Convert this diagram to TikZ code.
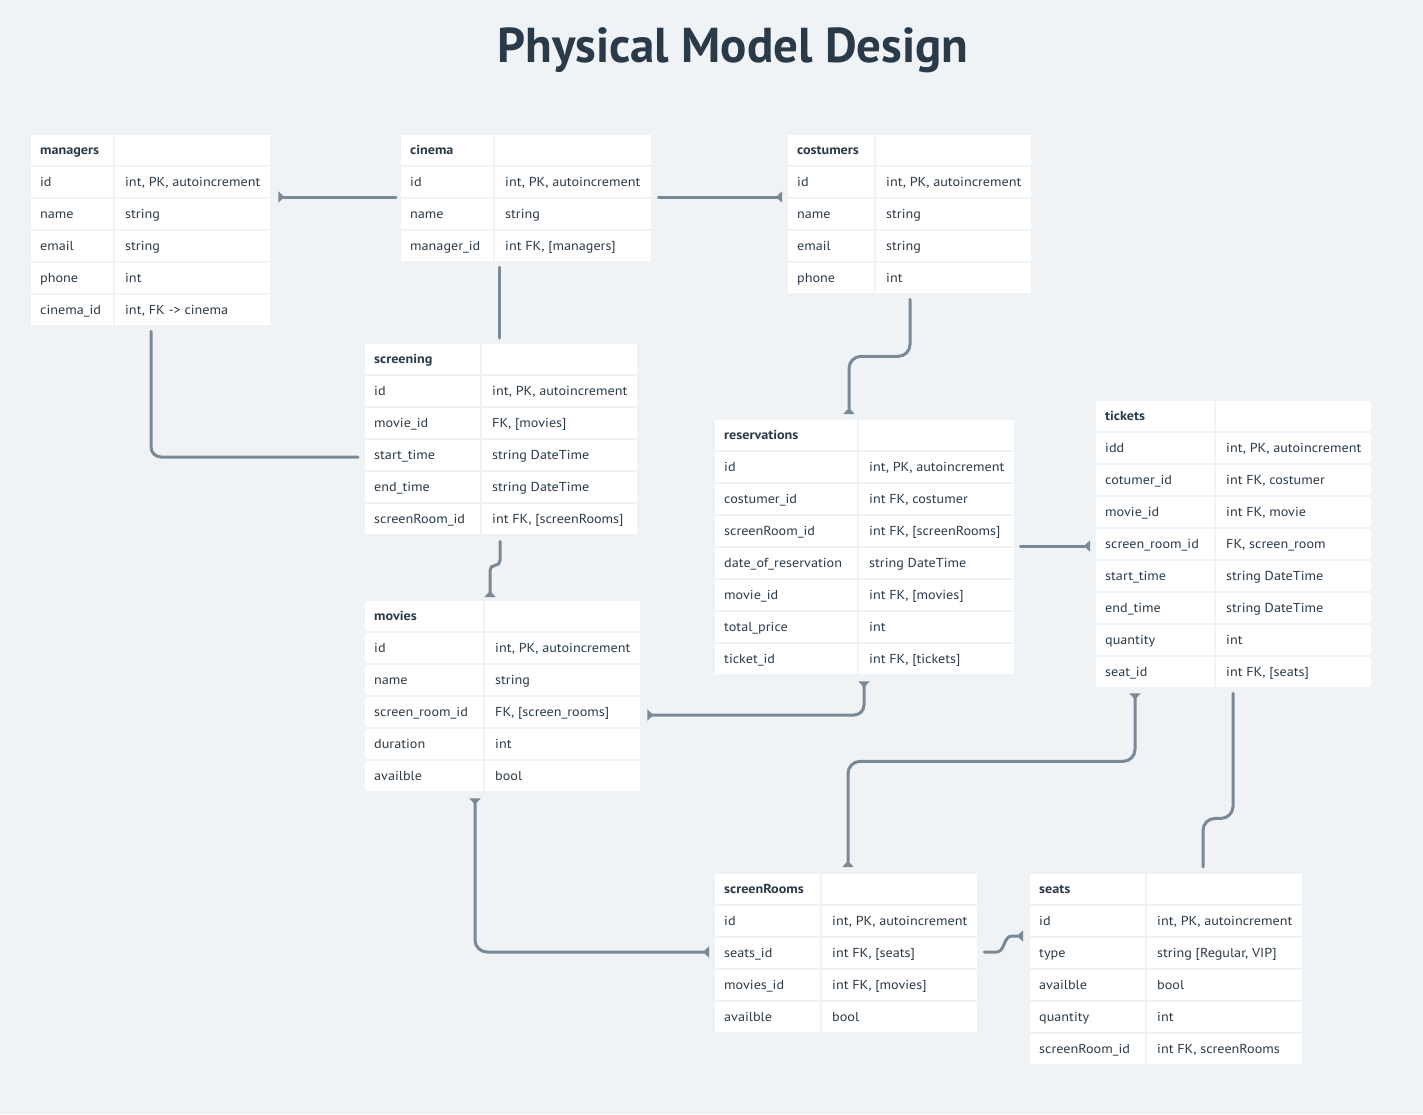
\documentclass[tikz,border=0pt]{standalone}
\usepackage{fontspec}
\setmainfont{PT Sans}[FakeStretch=1.09]
\newfontfamily\titlefont{PT Sans}
\usetikzlibrary{arrows.meta,calc}
\definecolor{bgc}{HTML}{EFF3F6}
\definecolor{txt}{HTML}{2B3A48}
\definecolor{linec}{HTML}{7B8896}
\tikzset{
  hdr/.style={anchor=base west, inner sep=0pt, text=txt, font=\fontsize{13}{15}\selectfont\bfseries},
  cell/.style={anchor=base west, inner sep=0pt, text=txt, font=\fontsize{13}{15}\selectfont},
  tblbox/.style={inner sep=0pt, draw=none, fill=none},
  rtip/.tip={Triangle[reversed,width=11pt,length=6pt]},
  conn/.style={draw=linec, line width=3pt, line cap=round},
}
% #1 name, #2 x, #3 y, #4 w1, #5 w2, #6 unused, #7 nrows, #8 rows
\newcommand{\ertable}[8]{%
  \fill[white] ({#2+1},{#3+1}) rectangle ++({#4-2},30);
  \fill[white] ({#2+#4+1},{#3+1}) rectangle ++({#5-2},30);
  \node[hdr] (#1-title) at ({#2+10},{#3+20}) {#1};
  \foreach \k/\v [count=\i] in {#8} {
    \fill[white] ({#2+1},{#3+32*\i+1}) rectangle ++({#4-2},30);
    \fill[white] ({#2+#4+1},{#3+32*\i+1}) rectangle ++({#5-2},30);
    \node[cell] (#1-k\i) at ({#2+10},{#3+32*\i+20}) {\k};
    \node[cell] (#1-v\i) at ({#2+#4+11},{#3+32*\i+20}) {\v};
  }
  \node[tblbox, minimum width={#4+#5}, minimum height={32*(#7+1)}, anchor=north west] (#1) at (#2,#3) {};
}
\begin{document}
\begin{tikzpicture}[x=1pt,y=-1pt]
\fill[bgc] (0,0) rectangle (1423,1114);
\node[text=txt, font=\titlefont\fontsize{49}{54}\selectfont\bfseries] (title) at (733,50) {Physical Model Design};

\ertable{managers}{30}{134}{84}{157}{}{5}{id/{int, PK, autoincrement}, name/string, email/string, phone/int, cinema\_id/{int, FK -> cinema}}
\ertable{cinema}{400}{134}{94}{158}{}{3}{id/{int, PK, autoincrement}, name/string, manager\_id/{int FK, [managers]}}
\ertable{costumers}{787}{134}{88}{157}{}{4}{id/{int, PK, autoincrement}, name/string, email/string, phone/int}
\ertable{screening}{364}{343}{117}{157}{}{5}{id/{int, PK, autoincrement}, movie\_id/{FK, [movies]}, start\_time/{string DateTime}, end\_time/{string DateTime}, screenRoom\_id/{int FK, [screenRooms]}}
\ertable{reservations}{714}{419}{144}{157}{}{7}{id/{int, PK, autoincrement}, costumer\_id/{int FK, costumer}, screenRoom\_id/{int FK, [screenRooms]}, date\_of\_reservation/{string DateTime}, movie\_id/{int FK, [movies]}, total\_price/int, ticket\_id/{int FK, [tickets]}}
\ertable{tickets}{1095}{400}{120}{157}{}{8}{idd/{int, PK, autoincrement}, cotumer\_id/{int FK, costumer}, movie\_id/{int FK, movie}, screen\_room\_id/{FK, screen\_room}, start\_time/{string DateTime}, end\_time/{string DateTime}, quantity/int, seat\_id/{int FK, [seats]}}
\ertable{movies}{364}{600}{120}{157}{}{5}{id/{int, PK, autoincrement}, name/string, screen\_room\_id/{FK, [screen\_rooms]}, duration/int, availble/bool}
\ertable{screenRooms}{714}{873}{107}{157}{}{4}{id/{int, PK, autoincrement}, seats\_id/{int FK, [seats]}, movies\_id/{int FK, [movies]}, availble/bool}
\ertable{seats}{1029}{873}{117}{157}{}{5}{id/{int, PK, autoincrement}, type/{string [Regular, VIP]}, availble/bool, quantity/int, screenRoom\_id/{int FK, screenRooms}}

% connectors
\draw[conn, -{rtip}] ($(cinema.north west)+(-4,63)$) -- ($(managers.north east)+(7,63)$);
\draw[conn, -{rtip}] ($(cinema.north east)+(6,63)$) -- ($(costumers.north west)+(-5,63)$);
\draw[conn] ($(cinema.south west)+(99,5)$) -- ($(screening.north west)+(135,-5)$);
\draw[conn, rounded corners=10pt] ($(managers.south west)+(121,5)$) |- ($(screening.north west)+(-6,114)$);
\draw[conn, -{rtip}, rounded corners=12pt] ($(costumers.south west)+(123,5)$) -- ++(0,57) -| ($(reservations.north west)+(135,-5)$);
\draw[conn, -{rtip}, rounded corners=5pt] ($(screening.south west)+(136,6)$) -- ++(0,24) -| ($(movies.north west)+(126,-3)$);
\draw[conn, {rtip}-{rtip}, rounded corners=10pt] ($(reservations.south west)+(150,6)$) |- ($(movies.north east)+(6,115)$);
\draw[conn, {rtip}-{rtip}, rounded corners=12pt] ($(tickets.south west)+(40,5)$) -- ++(0,68) -| ($(screenRooms.north west)+(134,-6)$);
\draw[conn, rounded corners=12pt] ($(tickets.south west)+(138,5)$) -- ++(0,125) -| ($(seats.north west)+(174,-6)$);
\draw[conn, -{rtip}] ($(reservations.north east)+(5,127)$) -- ($(tickets.north west)+(-5,146)$);
\draw[conn, {rtip}-{rtip}, rounded corners=12pt] ($(movies.south west)+(111,6)$) |- ($(screenRooms.north west)+(-5,79)$);
\draw[conn, -{rtip}] ($(screenRooms.north east)+(6,79)$) -- ++(12,0) to[out=0,in=180] ($(seats.north west)+(-17,63)$) -- ($(seats.north west)+(-6,63)$);
\end{tikzpicture}
\end{document}
